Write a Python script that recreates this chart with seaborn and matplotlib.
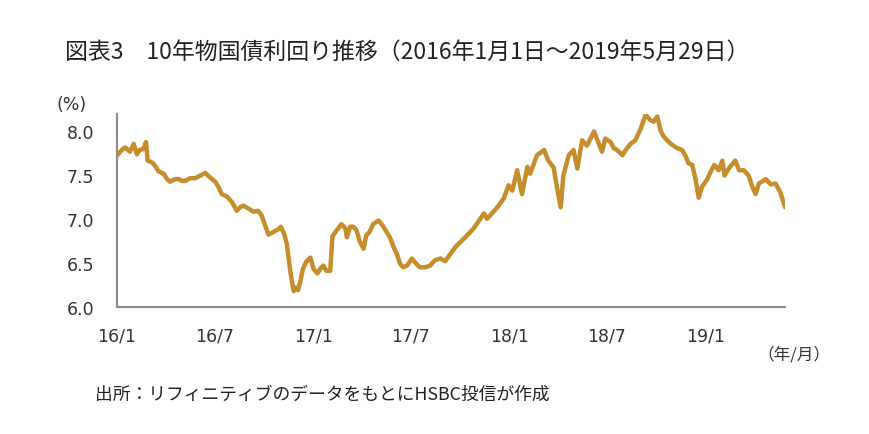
import matplotlib
matplotlib.use("Agg")
import matplotlib.pyplot as plt
import numpy as np
import pandas as pd
import seaborn as sns

# ── Data ──────────────────────────────────────────────────────────────────────

dates = [
    "2016-01-01", "2016-01-10", "2016-01-16", "2016-01-25", "2016-02-01", "2016-02-07",
    "2016-02-12", "2016-02-19", "2016-02-24", "2016-02-27", "2016-03-06", "2016-03-11",
    "2016-03-18", "2016-03-28", "2016-04-03", "2016-04-09", "2016-04-18", "2016-04-25",
    "2016-05-01", "2016-05-07", "2016-05-16", "2016-05-26", "2016-06-04", "2016-06-13",
    "2016-06-22", "2016-07-02", "2016-07-08", "2016-07-14", "2016-07-24", "2016-08-02",
    "2016-08-11", "2016-08-17", "2016-08-23", "2016-09-01", "2016-09-11", "2016-09-20",
    "2016-09-26", "2016-10-03", "2016-10-09", "2016-10-18", "2016-10-27", "2016-11-01",
    "2016-11-07", "2016-11-12", "2016-11-15", "2016-11-19", "2016-11-23", "2016-11-25",
    "2016-11-29", "2016-12-03", "2016-12-07", "2016-12-12", "2016-12-18", "2016-12-26",
    "2017-01-01", "2017-01-08", "2017-01-13", "2017-01-19", "2017-01-25", "2017-02-01",
    "2017-02-05", "2017-02-13", "2017-02-22", "2017-03-01", "2017-03-04", "2017-03-10",
    "2017-03-16", "2017-03-22", "2017-03-28", "2017-04-04", "2017-04-09", "2017-04-15",
    "2017-04-22", "2017-05-02", "2017-05-10", "2017-05-17", "2017-05-23", "2017-05-30",
    "2017-06-05", "2017-06-11", "2017-06-17", "2017-06-24", "2017-07-03", "2017-07-11",
    "2017-07-18", "2017-07-28", "2017-08-06", "2017-08-15", "2017-08-25", "2017-09-03",
    "2017-09-22", "2017-10-07", "2017-10-26", "2017-11-14", "2017-11-20", "2017-12-09",
    "2017-12-21", "2017-12-30", "2018-01-06", "2018-01-15", "2018-01-24", "2018-02-03",
    "2018-02-08", "2018-02-21", "2018-03-06", "2018-03-14", "2018-03-24", "2018-03-30",
    "2018-04-06", "2018-04-11", "2018-04-21", "2018-04-30", "2018-05-07", "2018-05-16",
    "2018-05-25", "2018-06-07", "2018-06-16", "2018-06-22", "2018-06-28", "2018-07-08",
    "2018-07-14", "2018-07-20", "2018-07-30", "2018-08-05", "2018-08-14", "2018-08-23",
    "2018-09-02", "2018-09-11", "2018-09-20", "2018-09-26", "2018-10-03", "2018-10-09",
    "2018-10-15", "2018-10-28", "2018-11-09", "2018-11-18", "2018-11-24", "2018-11-30",
    "2018-12-07", "2018-12-13", "2018-12-19", "2018-12-25", "2019-01-04", "2019-01-10",
    "2019-01-17", "2019-01-25", "2019-02-01", "2019-02-05", "2019-02-13", "2019-02-25",
    "2019-03-04", "2019-03-13", "2019-03-22", "2019-03-29", "2019-04-04", "2019-04-10",
    "2019-04-23", "2019-05-02", "2019-05-11", "2019-05-20", "2019-05-29",
]

yields = [
    7.72, 7.78, 7.81, 7.76, 7.85, 7.73,
    7.78, 7.79, 7.87, 7.66, 7.64, 7.61,
    7.54, 7.51, 7.45, 7.42, 7.45, 7.45,
    7.43, 7.43, 7.46, 7.46, 7.49, 7.52,
    7.47, 7.42, 7.36, 7.28, 7.25, 7.19,
    7.09, 7.13, 7.15, 7.12, 7.08, 7.09,
    7.04, 6.92, 6.82, 6.85, 6.88, 6.91,
    6.83, 6.72, 6.58, 6.39, 6.24, 6.18,
    6.22, 6.19, 6.28, 6.43, 6.51, 6.56,
    6.43, 6.38, 6.43, 6.47, 6.41, 6.41,
    6.80, 6.87, 6.94, 6.89, 6.79, 6.91,
    6.91, 6.87, 6.74, 6.66, 6.81, 6.85,
    6.94, 6.98, 6.92, 6.85, 6.79, 6.68,
    6.60, 6.49, 6.45, 6.47, 6.55, 6.49,
    6.45, 6.45, 6.47, 6.53, 6.55, 6.52,
    6.68, 6.77, 6.89, 7.06, 7.00, 7.13,
    7.23, 7.38, 7.32, 7.55, 7.28, 7.59,
    7.51, 7.72, 7.78, 7.66, 7.58, 7.36,
    7.13, 7.49, 7.72, 7.78, 7.57, 7.89,
    7.83, 7.99, 7.85, 7.76, 7.91, 7.87,
    7.80, 7.78, 7.72, 7.78, 7.85, 7.89,
    8.02, 8.18, 8.12, 8.10, 8.16, 8.00,
    7.93, 7.85, 7.80, 7.78, 7.72, 7.63,
    7.61, 7.45, 7.24, 7.36, 7.45, 7.53,
    7.61, 7.55, 7.66, 7.49, 7.57, 7.66,
    7.55, 7.55, 7.49, 7.36, 7.28, 7.40,
    7.45, 7.39, 7.40, 7.30, 7.13,
]

y_ticks = [6.0, 6.5, 7.0, 7.5, 8.0]
x_ticks = ["2016-01-01", "2016-07-01", "2017-01-01", "2017-07-01",
           "2018-01-01", "2018-07-01", "2019-01-01"]
x_tick_labels = ["16/1", "16/7", "17/1", "17/7", "18/1", "18/7", "19/1"]

title = "図表3　10年物国債利回り推移（2016年1月1日～2019年5月29日）"
source = "出所：リフィニティブのデータをもとにHSBC投信が作成"

LINE_COLOR = "#C68D2C"
AXIS_COLOR = "#8C8C8C"
TEXT_COLOR = "#333333"

# ── Plot ──────────────────────────────────────────────────────────────────────

sns.set_theme(style="white")
plt.rcParams["font.family"] = ["DejaVu Sans", "Noto Sans CJK JP"]
jp_font = ["Noto Sans CJK JP", "DejaVu Sans"]

df = pd.DataFrame({"date": pd.to_datetime(dates), "yield": yields})

fig = plt.figure(figsize=(8.7, 4.35), dpi=100)
ax = fig.add_axes([0.1345, 0.292, 0.768, 0.444])

sns.lineplot(data=df, x="date", y="yield", color=LINE_COLOR, linewidth=3.2, ax=ax)

ax.set_xlim(pd.Timestamp("2016-01-01"), pd.Timestamp("2019-05-29"))
ax.set_ylim(6.0, 8.19)
ax.set_yticks(y_ticks)
ax.set_yticklabels([f"{v:.1f}" for v in y_ticks])
ax.set_xticks(pd.to_datetime(x_ticks))
ax.set_xticklabels(x_tick_labels)
ax.set_xlabel("")
ax.set_ylabel("")

for side in ("top", "right"):
    ax.spines[side].set_visible(False)
for side in ("left", "bottom"):
    ax.spines[side].set_color(AXIS_COLOR)
    ax.spines[side].set_linewidth(1.5)

ax.tick_params(axis="both", which="major", direction="out", length=4.3, width=1.5,
               color=AXIS_COLOR, labelcolor=TEXT_COLOR, labelsize=12.5)
ax.tick_params(axis="x", pad=10)
ax.tick_params(axis="y", pad=12)
ax.grid(False)

fig.text(0.075, 0.88, title, fontsize=16.5, family=jp_font, color="#222222",
         va="center", ha="left")
fig.text(0.065, 0.758, "(%)", fontsize=12.5, color=TEXT_COLOR, va="center", ha="left")
fig.text(0.871, 0.184, "（年/月）", fontsize=12, family=jp_font, color=TEXT_COLOR,
         va="center", ha="left")
fig.text(0.109, 0.092, source, fontsize=12.8, family=jp_font, color="#222222",
         va="center", ha="left")

fig.savefig("out.png", dpi=100, facecolor="white")
